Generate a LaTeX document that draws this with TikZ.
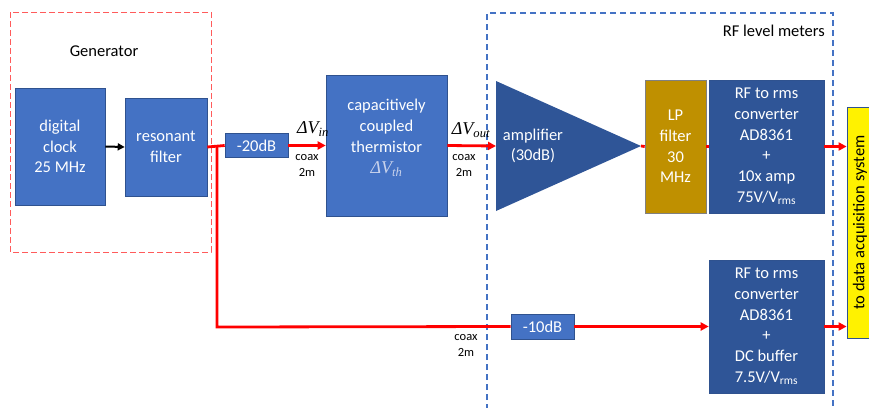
\documentclass[tikz,border=0pt]{standalone}
\usepackage{fontspec}
\setmainfont{Carlito}
\newfontfamily\tnr{Liberation Serif}
\usetikzlibrary{arrows.meta}
\definecolor{lblue}{HTML}{4472C4}
\definecolor{dblue}{HTML}{2F5597}
\definecolor{gold}{HTML}{BF9000}
\definecolor{bord}{HTML}{2F528F}
\definecolor{genred}{HTML}{FF5B5B}
\definecolor{thlight}{HTML}{C9D3EC}
\tikzset{
  lbox/.style={draw=bord, line width=0.6pt, fill=lblue, text=white, align=center, inner sep=0pt, font=\fontsize{16.5}{20.7}\selectfont},
  dbox/.style={draw=bord, line width=0.6pt, fill=dblue, text=white, align=center, inner sep=0pt, font=\fontsize{16.5}{20.7}\selectfont},
  rf/.style={draw=red, line width=2.8pt, -{Triangle[length=8pt,width=8pt]}},
  rfl/.style={draw=red, line width=2.8pt},
  lbl/.style={font=\fontsize{16.5}{20.7}\selectfont, align=center, inner sep=0pt},
  small/.style={font=\fontsize{12.5}{16}\selectfont, align=center, inner sep=0pt},
  dv/.style={font=\tnr\itshape\fontsize{18}{20}\selectfont, inner sep=0pt}
}
\begin{document}
\begin{tikzpicture}[x=1pt,y=-1pt]
\useasboundingbox (0,0) rectangle (869,407);
% group frames
\draw[genred, line width=1pt, dash pattern=on 6pt off 3pt] (10,12) rectangle (211,252);
\node[lbl] (gen) at (104,51) {Generator};
\draw[lblue, line width=1.2pt, dash pattern=on 6pt off 4pt] (487,420) -- (487,13) -- (833,13) -- (833,420);
\node[lbl, anchor=east] (rflm) at (825,31) {RF level meters};
% blocks
\node[lbox, minimum width=90pt, minimum height=117pt] (clk) at (60,146.5) {digital\\clock\\25 MHz};
\node[lbox, minimum width=82pt, minimum height=98pt] (res) at (166,147) {resonant\\filter};
\node[lbox, minimum width=63pt, minimum height=24pt] (att20) at (256.5,145.5) {-20dB};
\node[lbox, minimum width=121pt, minimum height=141pt] (th) at (386.5,145.5) {};
\node[lbl, text=white] (thtxt) at (386.5,126) {capacitively\\coupled\\thermistor};
\node[dv, text=thlight] (dvth) at (386.5,169) {ΔV\textsubscript{th}};
% amplifier triangle
\coordinate (ampin) at (496,146);
\coordinate (ampout) at (641,146);
\fill[dblue] (496,81) -- (641,146) -- (496,211) -- cycle;
\node[lbl, text=white] (amptxt) at (533,146) {amplifier\\(30dB)};
\node[lbox, fill=gold, draw=gray, minimum width=61pt, minimum height=133pt] (lp) at (675.5,146.5) {LP\\filter\\30\\MHz};
\node[dbox, minimum width=115pt, minimum height=133pt] (rf1) at (766.5,146.5) {RF to rms\\converter\\AD8361\\+\\10x amp\\75V/V\textsubscript{rms}};
\node[dbox, minimum width=115pt, minimum height=133pt] (rf2) at (766.5,326.5) {RF to rms\\converter\\AD8361\\+\\DC buffer\\7.5V/V\textsubscript{rms}};
\node[lbox, minimum width=63pt, minimum height=25pt] (att10) at (542.5,326.5) {-10dB};
\node[draw=bord, line width=0.8pt, fill=yellow, minimum width=34pt, minimum height=231pt, inner sep=0pt] (daq) at (864,222.5) {};
\node[lbl, rotate=90] (daqtxt) at (860,222.5) {to data acquisition system};
% connectors
\draw[line width=2pt, -{Triangle[length=7pt,width=7pt]}] (clk.east) -- (res.west);
\coordinate (br) at (217,146);
\draw[rfl] (res.east) -- (att20.west);
\draw[rf] (att20.east) -- (th.west);
\draw[rf] (th.east) -- (ampin);
\draw[rfl] (ampout) -- (lp.west);
\draw[rfl] (lp.east) -- (rf1.west);
\draw[rf] (rf1.east) -- (rf1.east -| daq.west);
\draw[rfl] (br) -- (217,327) -- (att10.west);
\draw[rf] (att10.east) -- (rf2.west);
\draw[rf] (rf2.east) -- (rf2.east -| daq.west);
% labels
\node[dv] (dvin) at (313,129) {ΔV\textsubscript{in}};
\node[small] (cx1) at (307,165) {coax\\2m};
\node[dv] (dvout) at (471,130) {ΔV\textsubscript{out}};
\node[small] (cx2) at (464,165) {coax\\2m};
\node[small] (cx3) at (466,345) {coax\\2m};
\end{tikzpicture}
\end{document}
